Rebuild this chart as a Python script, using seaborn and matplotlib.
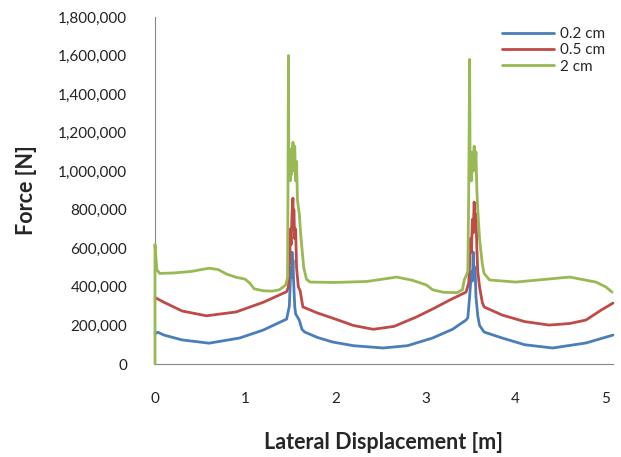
import matplotlib
matplotlib.use("Agg")
import matplotlib.pyplot as plt
import matplotlib.ticker as mticker
import pandas as pd
import seaborn as sns

# lateral displacement [m] and force [N]
x_02 = [0.0, 0.03, 0.1, 0.3, 0.6, 0.94, 1.2, 1.46, 1.49, 1.50, 1.51, 1.515, 1.52, 1.525,
        1.53, 1.54, 1.55, 1.56, 1.6, 1.63, 1.66, 1.8, 1.97, 2.2, 2.53, 2.8, 3.08, 3.3, 3.45,
        3.47, 3.49, 3.51, 3.52, 3.53, 3.54, 3.55, 3.56, 3.58, 3.6, 3.65, 3.85, 4.1, 4.41,
        4.78, 5.08]
f_02 = [155000, 165000, 150000, 125000, 108000, 135000, 176000, 233000, 300000, 420000,
        500000, 450000, 580000, 480000, 540000, 400000, 300000, 260000, 228000, 180000,
        166000, 138000, 114000, 95000, 83000, 95000, 135000, 180000, 228000,
        240000, 350000, 480000, 430000, 580000, 470000, 500000, 350000, 250000, 200000,
        166000, 135000, 100000, 83000, 109000, 150000]

x_05 = [0.0, 0.1, 0.3, 0.57, 0.9, 1.2, 1.46, 1.48, 1.49, 1.495, 1.50, 1.51, 1.52, 1.53,
        1.535, 1.54, 1.55, 1.56, 1.57, 1.59, 1.61, 1.64, 1.8, 1.97, 2.2, 2.42, 2.65, 2.9,
        3.1, 3.27, 3.45, 3.48, 3.49, 3.50, 3.51, 3.52, 3.53, 3.54, 3.55, 3.56, 3.57, 3.58,
        3.6, 3.63, 3.65, 3.85, 4.1, 4.37, 4.6, 4.78, 4.95, 5.08]
f_05 = [345000, 320000, 275000, 250000, 270000, 320000, 375000, 400000, 600000, 520000,
        700000, 620000, 780000, 860000, 700000, 800000, 650000, 700000, 500000, 400000,
        380000, 296000, 265000, 238000, 200000, 180000, 195000, 244000, 290000, 332000,
        373000, 420000, 520000, 650000, 580000, 750000, 680000, 840000, 720000, 780000,
        600000, 480000, 400000, 320000, 296000, 254000, 220000, 202000, 210000, 228000,
        280000, 316000]

x_2 = [0.0, 0.0, 0.02, 0.05, 0.2, 0.4, 0.6, 0.7, 0.8, 0.9, 1.0, 1.05, 1.1, 1.2, 1.3, 1.38,
       1.45, 1.47, 1.475, 1.48, 1.485, 1.49, 1.50, 1.505, 1.51, 1.52, 1.525, 1.53, 1.54,
       1.55, 1.56, 1.57, 1.58, 1.6, 1.62, 1.65, 1.68, 1.72, 2.0, 2.35, 2.68, 2.85, 3.01,
       3.08, 3.2, 3.35, 3.41, 3.43, 3.47, 3.48, 3.49, 3.495, 3.50, 3.51, 3.52, 3.53, 3.54,
       3.55, 3.56, 3.57, 3.58, 3.60, 3.63, 3.65, 3.71, 4.0, 4.23, 4.6, 4.89, 5.0, 5.07]
f_2 = [0, 620000, 490000, 470000, 472000, 480000, 497000, 490000, 465000, 450000, 440000,
       420000, 390000, 380000, 378000, 385000, 410000, 450000, 900000, 1600000, 1000000,
       1080000, 950000, 1100000, 980000, 1120000, 1000000, 1150000, 1050000, 1130000,
       950000, 1050000, 850000, 780000, 650000, 500000, 440000, 425000, 423000, 428000,
       451000, 435000, 410000, 385000, 372000, 370000, 385000, 435000, 480000, 900000,
       1580000, 1000000, 1080000, 950000, 1100000, 1000000, 1130000, 1020000, 1100000,
       900000, 800000, 650000, 520000, 470000, 436000, 425000, 435000, 451000, 425000,
       400000, 373000]

series = ["0.2 cm", "0.5 cm", "2 cm"]
colors = ["#4a7ebb", "#be4b48", "#98b954"]

frames = []
for name, xs, ys in zip(series, [x_02, x_05, x_2], [f_02, f_05, f_2]):
    frames.append(pd.DataFrame({"disp": xs, "force": ys, "gap": name}))
df = pd.concat(frames, ignore_index=True)

sns.set_style("white")
plt.rcParams["font.family"] = ["Lato", "DejaVu Sans"]

fig = plt.figure(figsize=(6.21, 4.57), dpi=100)
ax = fig.add_axes([0.2496, 0.2035, 0.7375, 0.7593])

sns.lineplot(data=df, x="disp", y="force", hue="gap", palette=colors, hue_order=series,
             estimator=None, sort=False, units="gap", linewidth=2, ax=ax, legend=False,
             zorder=3, clip_on=False)

ax.set_xlim(0, 5.08)
ax.set_ylim(0, 1800000)
ax.set_xticks(range(0, 6))
ax.set_yticks(range(0, 1800001, 200000))
ax.yaxis.set_major_formatter(mticker.StrMethodFormatter("{x:,.0f}"))

for s in ["top", "right"]:
    ax.spines[s].set_visible(False)
for s in ["left", "bottom"]:
    ax.spines[s].set_color("#868686")
    ax.spines[s].set_linewidth(0.8)
ax.tick_params(axis="both", direction="out", length=4, width=0.8, color="#868686",
               labelsize=11, labelcolor="#222222", pad=16)

ax.set_xlabel("Lateral Displacement [m]", fontsize=15.5, fontweight="bold", labelpad=19)
ax.set_ylabel("Force [N]", fontsize=15.5, fontweight="bold", labelpad=15)

handles = [plt.Line2D([], [], color=c, linewidth=2) for c in colors]
ax.legend(handles, series, loc="upper left", bbox_to_anchor=(502 / 621, 1 - 27 / 457),
          bbox_transform=fig.transFigure, frameon=False, fontsize=11, handlelength=3.4,
          handletextpad=0.4, labelspacing=0.15, borderpad=0, borderaxespad=0)

fig.savefig("out.png", dpi=100)
